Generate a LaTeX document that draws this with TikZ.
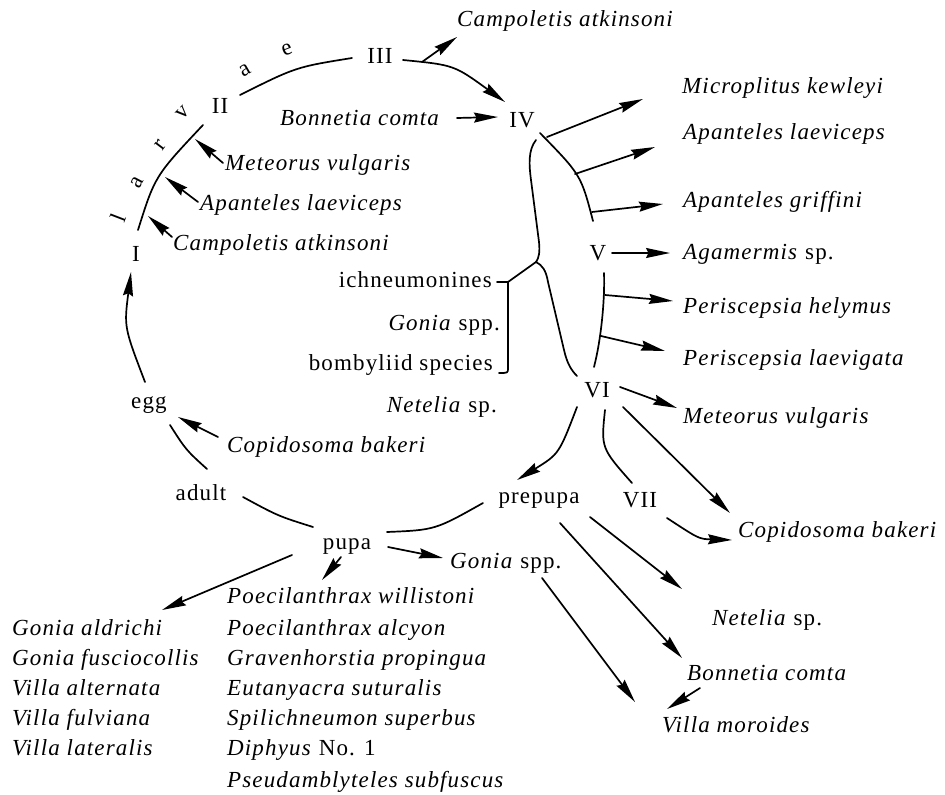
\documentclass[tikz,border=0pt]{standalone}
\usepackage{fontspec}
\setmainfont[LetterSpace=5]{Liberation Serif}
\usetikzlibrary{arrows.meta}
\begin{document}
\begin{tikzpicture}[x=1pt,y=-1pt,
  every node/.style={inner sep=0pt,font=\fontsize{23}{28}\selectfont},
  lbl/.style={anchor=base west,font=\fontsize{23}{28}\selectfont\itshape},
  lble/.style={anchor=base east,font=\fontsize{23}{28}\selectfont\itshape},
  stage/.style={anchor=base},
  lett/.style={anchor=center},
  ln/.style={line width=1.7pt,line cap=round},
  arr/.style={ln,-{Stealth[length=24pt,width=10pt,inset=2.5pt]}}]
\useasboundingbox (0,0) rectangle (945,795);
% stages
\node[stage] (III) at (380,63) {III};
\node[stage] (II) at (220,113) {II};
\node[stage] (I) at (136,261) {I};
\node[stage] (IV) at (522,127) {IV};
\node[stage] (V) at (598,260) {V};
\node[stage] (VI) at (597,397) {VI};
\node[stage] (VII) at (640,507) {VII};
\node[stage] (egg) at (149,408) {egg};
\node[stage] (adult) at (201,500) {adult};
\node[stage] (pupa) at (347,549) {pupa};
\node[stage] (prepupa) at (539,503) {prepupa};
% larvae letters
\node[lett,rotate=69] (l1) at (118,218) {l};
\node[lett,rotate=62] (l2) at (137,183) {a};
\node[lett,rotate=53] (l3) at (160,145) {r};
\node[lett,rotate=45] (l4) at (183,113) {v};
\node[lett,rotate=30] (l5) at (245,70) {a};
\node[lett,rotate=21] (l6) at (287,50) {e};
% labels
\node[lbl] (campT) at (457,26) {Campoletis atkinsoni};
\node[lbl] (bonL) at (280,125) {Bonnetia comta};
\node[lbl] (metL) at (225,170) {Meteorus vulgaris};
\node[lbl] (apaL) at (200,210) {Apanteles laeviceps};
\node[lbl] (camL) at (173,250) {Campoletis atkinsoni};
\node[lbl] (copL) at (227,452) {Copidosoma bakeri};
\node[anchor=base east] (ich) at (492,287) {ichneumonines};
\node[lble] (goniaM) at (500,330) {Gonia \textup{spp.}};
\node[anchor=base east] (bomb) at (493,370) {bombyliid species};
\node[lble] (netM) at (497,412) {Netelia \textup{sp.}};
\node[lbl] (mic) at (682,93) {Microplitus kewleyi};
\node[lbl] (apaR) at (683,139) {Apanteles laeviceps};
\node[lbl] (gri) at (683,207) {Apanteles griffini};
\node[lbl] (aga) at (683,259) {Agamermis \textup{sp.}};
\node[lbl] (hel) at (683,313) {Periscepsia helymus};
\node[lbl] (lae) at (683,365) {Periscepsia laevigata};
\node[lbl] (metR) at (683,423) {Meteorus vulgaris};
\node[lbl] (copR) at (738,537) {Copidosoma bakeri};
\node[lbl] (goniaB) at (450,568) {Gonia \textup{spp.}};
\node[lbl] (netR) at (712,625) {Netelia \textup{sp.}};
\node[lbl] (bonR) at (687,680) {Bonnetia comta};
\node[lbl] (vil) at (662,732) {Villa moroides};
% left list
\node[lbl] (ga) at (12,635) {Gonia aldrichi};
\node[lbl] (gf) at (12,665) {Gonia fusciocollis};
\node[lbl] (va) at (12,695) {Villa alternata};
\node[lbl] (vf) at (12,725) {Villa fulviana};
\node[lbl] (vl) at (12,755) {Villa lateralis};
% middle list
\node[lbl] (pw) at (227,603) {Poecilanthrax willistoni};
\node[lbl] (pa) at (227,635) {Poecilanthrax alcyon};
\node[lbl] (gp) at (227,665) {Gravenhorstia propingua};
\node[lbl] (es) at (227,695) {Eutanyacra suturalis};
\node[lbl] (ss) at (227,725) {Spilichneumon superbus};
\node[lbl] (dn) at (227,755) {Diphyus \textup{No. 1}};
\node[lbl] (ps) at (227,787) {Pseudamblyteles subfuscus};
% cycle arcs
\coordinate (c1a) at (138,230); \coordinate (c1b) at (203,125);
\draw[ln] (c1a) .. controls (155,176) .. (c1b);
\coordinate (c2a) at (240,95); \coordinate (c2b) at (352,58);
\draw[ln] (c2a) .. controls (296,67) .. (c2b);
\coordinate (c3a) at (403,60); \coordinate (c3b) at (505,102);
\draw[arr] (c3a) .. controls (454,65) .. (c3b);
\coordinate (c4a) at (145,382); \coordinate (c4b) at (131,272);
\draw[arr] (c4a) .. controls (124,327) .. (c4b);
\coordinate (c5a) at (170,425); \coordinate (c5b) at (207,469);
\draw[ln] (c5a) .. controls (186,450) .. (c5b);
\coordinate (c6a) at (243,497); \coordinate (c6b) at (313,527);
\draw[ln] (c6a) .. controls (278,516) .. (c6b);
\coordinate (c7a) at (387,532); \coordinate (c7b) at (483,503);
\draw[ln] (c7a) .. controls (435,530) .. (c7b);
\coordinate (c8a) at (577,407); \coordinate (c8b) at (517,480);
\draw[arr] (c8a) .. controls (559,454) .. (c8b);
\coordinate (c9a) at (605,410); \coordinate (c9b) at (632,483);
\draw[ln] (c9a) .. controls (601,448) .. (c9b);
\coordinate (c10a) at (667,518); \coordinate (c10b) at (732,540);
\draw[arr] (c10a) .. controls (699,539) .. (c10b);
% IV - V bracket
\coordinate (b1a) at (540,133); \coordinate (b1b) at (593,221);
\draw[ln] (b1a) .. controls (581,175) .. (b1b);
\coordinate (b2a) at (604,273); \coordinate (b2b) at (594,367);
\draw[ln] (b2a) .. controls (605,300) and (601,340) .. (b2b);
% big brace
\coordinate (cusp) at (536,262);
\draw[ln] (536,140) .. controls (528,150) and (529,165) .. (531,180) -- (539,242)
  .. controls (540,252) and (539,258) .. (cusp)
  .. controls (542,265) and (546,270) .. (548,282) -- (564,350)
  .. controls (567,363) and (571,370) .. (577,376);
\coordinate (kt) at (508,282); \coordinate (kb) at (508,368);
\draw[ln] (cusp) -- (kt);
\draw[ln] (ich.base east) ++(5,-5) -- (kt) -- (kb) .. controls (508,373) .. (499,373);
% arrows into larvae
\coordinate (m1) at (223,163); \coordinate (m1t) at (195,139);
\draw[arr] (m1) -- (m1t);
\coordinate (m2) at (198,202); \coordinate (m2t) at (165,177);
\draw[arr] (m2) -- (m2t);
\coordinate (m3) at (172,237); \coordinate (m3t) at (148,216);
\draw[arr] (m3) -- (m3t);
\coordinate (m4) at (422,62); \coordinate (m4t) at (457,37);
\draw[arr] (m4) -- (m4t);
\coordinate (m5) at (457,118); \coordinate (m5t) at (498,117);
\draw[arr] (m5) -- (m5t);
\coordinate (m6) at (218,437); \coordinate (m6t) at (178,417);
\draw[arr] (m6) -- (m6t);
% arrows out, right side
\coordinate (r1) at (547,137); \coordinate (r1t) at (643,99);
\draw[arr] (r1) -- (r1t);
\coordinate (r2) at (575,174); \coordinate (r2t) at (655,147);
\draw[arr] (r2) -- (r2t);
\coordinate (r3) at (592,212); \coordinate (r3t) at (663,204);
\draw[arr] (r3) -- (r3t);
\coordinate (r4) at (612,253); \coordinate (r4t) at (670,253);
\draw[arr] (r4) -- (r4t);
\coordinate (r5) at (605,295); \coordinate (r5t) at (673,301);
\draw[arr] (r5) -- (r5t);
\coordinate (r6) at (601,336); \coordinate (r6t) at (665,351);
\draw[arr] (r6) -- (r6t);
\coordinate (r7) at (620,387); \coordinate (r7t) at (677,408);
\draw[arr] (r7) -- (r7t);
\coordinate (r8) at (623,407); \coordinate (r8t) at (730,513);
\draw[arr] (r8) -- (r8t);
% bottom arrows
\coordinate (p1) at (388,547); \coordinate (p1t) at (443,558);
\draw[arr] (p1) -- (p1t);
\coordinate (p2) at (292,555); \coordinate (p2t) at (162,610);
\draw[arr] (p2) -- (p2t);
\coordinate (p3) at (341,557); \coordinate (p3t) at (322,580);
\draw[arr] (p3) -- (p3t);
\coordinate (q1) at (590,517); \coordinate (q1t) at (682,589);
\draw[arr] (q1) -- (q1t);
\coordinate (q2) at (560,523); \coordinate (q2t) at (682,658);
\draw[arr] (q2) -- (q2t);
\coordinate (q3) at (542,578); \coordinate (q3t) at (635,702);
\draw[arr] (q3) -- (q3t);
\coordinate (q4) at (700,688); \coordinate (q4t) at (667,709);
\draw[arr] (q4) -- (q4t);
\end{tikzpicture}
\end{document}
